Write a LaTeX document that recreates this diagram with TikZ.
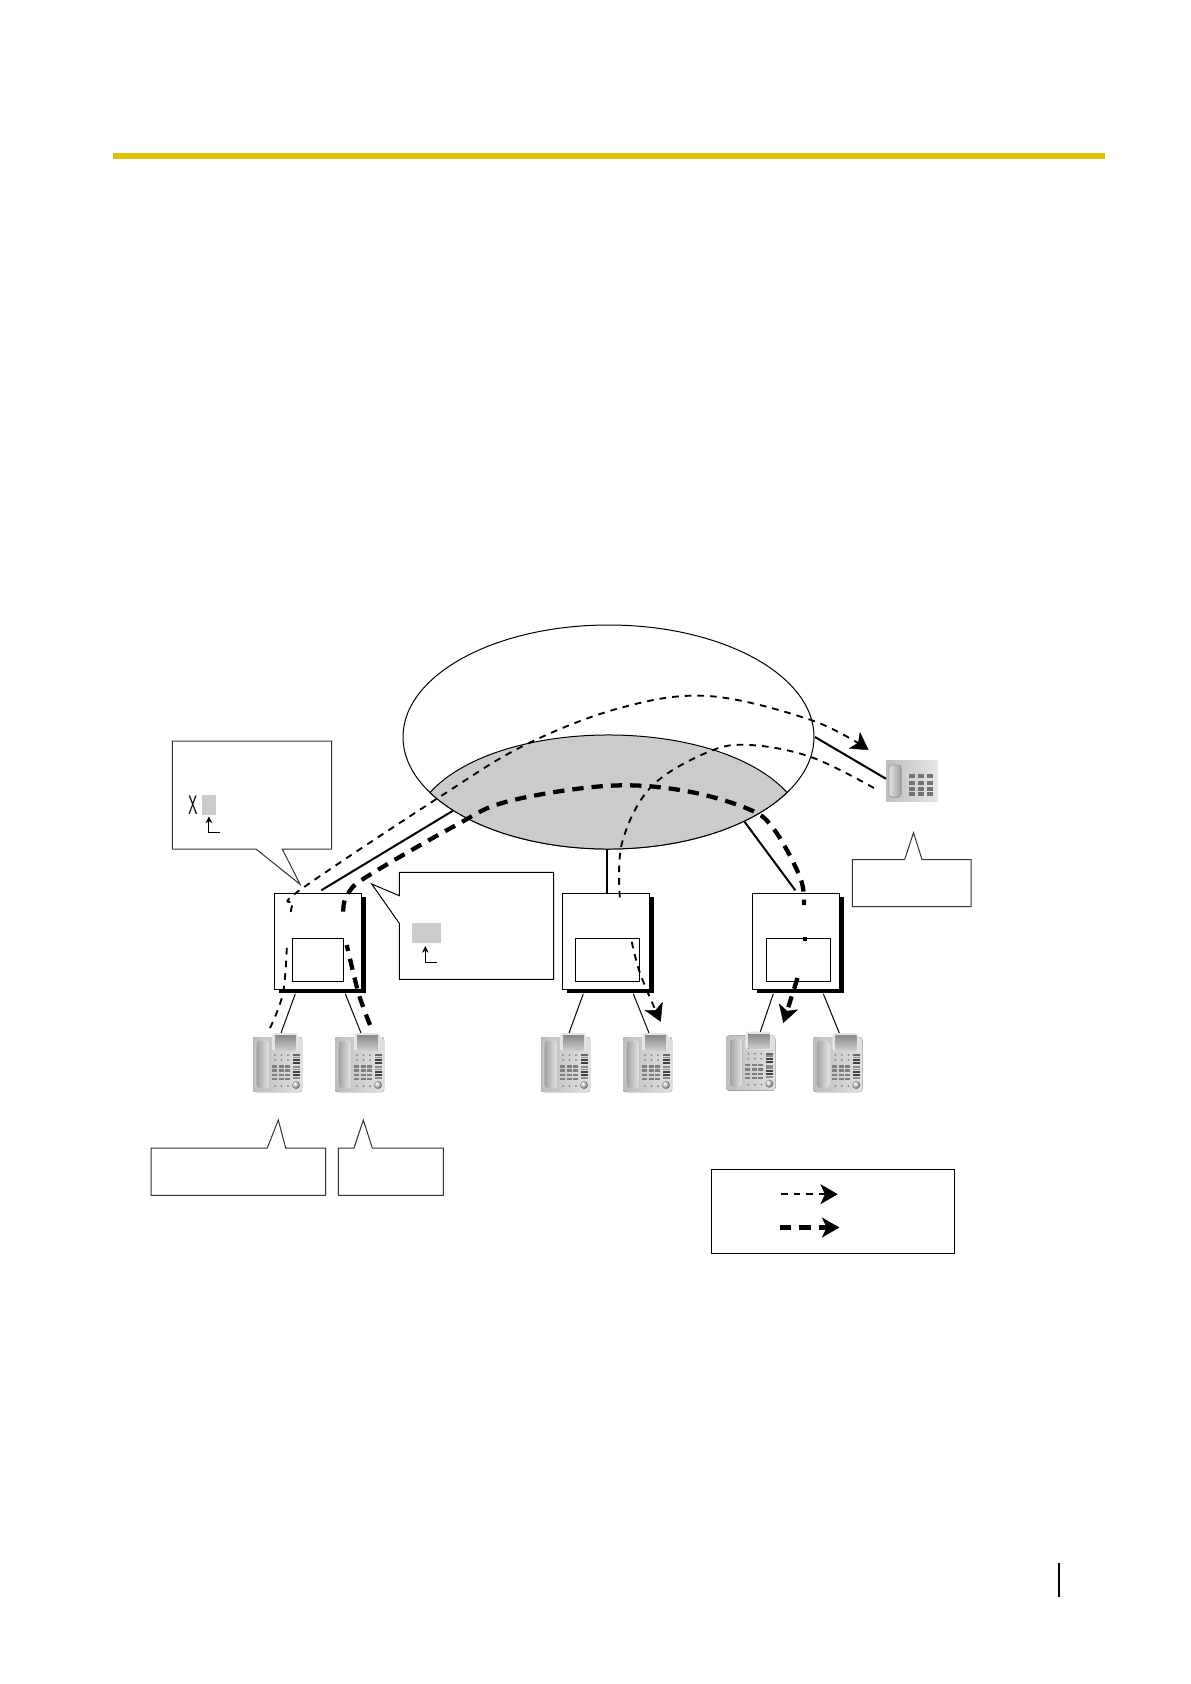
\documentclass[tikz,border=0pt]{standalone}
\usepackage{xcolor}
\usepackage{graphicx}
\usetikzlibrary{shapes.geometric, arrows.meta, positioning, shadows}

\definecolor{barcol}{HTML}{E0BF00}
\definecolor{lenscol}{HTML}{CBCBCB}
\newcommand{\px}{0.75pt}

% desk phone with keypad, #1 name, #2 x, #3 y (top left corner)
\newcommand{\deskphone}[3]{
  \node[phonebox] (#1) at (#2,#3) {};
  \begin{scope}[shift={(#1.north west)}]
    \fill[rounded corners=2pt, left color=black!26, right color=black!12] (0,4) rectangle (49,59);
    \fill[rounded corners=3pt, left color=black!38, right color=black!10, draw=black!14] (3,7) rectangle (16,56);
    \fill[rounded corners=2pt, black!10] (19,0) rectangle (45,18);
    \fill[top color=black!45, bottom color=black!20] (22,2.5) rectangle (43,17);
    \foreach \kx in {22,28.5,35}{
      \foreach \ky in {22,27,53}
        \fill[black!50] (\kx,\ky) circle (1);
    }
    \foreach \kx in {19,25.5,32}{
      \foreach \ky/\kh in {32/2.5,36/3,41/2,45/2}
        \fill[black!50] (\kx,\ky) rectangle ++(5,\kh);
    }
    \foreach \ky/\kc in {21/60,23.5/45,26/75,29/75,33/45,35.5/45,38/75,41/75,44/45}
      \fill[black!\kc] (40,\ky) rectangle ++(6.5,1.8);
    \shade[ball color=black!15] (43,52) circle (4);
  \end{scope}
}

\begin{document}
\begin{tikzpicture}[
  x=0.75pt, y=-0.75pt,
  pbxbox/.style={rectangle, draw, fill=white, line width=\px, inner sep=0pt, anchor=north west,
                 minimum width=87*\px, minimum height=96*\px,
                 drop shadow={opacity=1, fill=black, shadow xshift=2.8pt, shadow yshift=-2.6pt}},
  cardbox/.style={rectangle, draw, fill=white, line width=\px, inner sep=0pt, anchor=north west,
                  minimum width=#1*\px, minimum height=43*\px},
  slotbox/.style={rectangle, fill=lenscol, inner sep=0pt, anchor=north west,
                  minimum width=#1*\px, minimum height=20*\px},
  phonebox/.style={rectangle, inner sep=0pt, anchor=north west, minimum width=50*\px, minimum height=59*\px},
  callout/.style={draw=black!80, fill=white, line width=\px},
  link/.style={line width=\px},
  trunk/.style={line width=2*\px},
  tinyarr/.style={line width=\px, -{Stealth[length=5pt, width=5pt]}},
  thinpath/.style={line width=1.4pt, dash pattern=on 5pt off 4.5pt},
  thickpath/.style={line width=3.2pt, dash pattern=on 8.5pt off 6pt},
  bigtip/.style={-{Stealth[length=13pt, width=15pt, inset=3.5pt, line width=0.3pt]}}
]
\useasboundingbox (0,0) rectangle (1191,1684);

% page furniture
\fill[barcol] (113,152.5) rectangle (1105,159);
\draw[line width=1.2*\px] (1059,1563) -- (1059,1597);

% network
\node[ellipse, draw, fill=white, line width=\px, inner sep=0pt, minimum width=411*\px, minimum height=224*\px] (cloud) at (608.5,737) {};
\draw[fill=lenscol, line width=\px] (430,792.5) .. controls (500,715.8) and (717,715.8) .. (787,792.5)
  arc[start angle=29.7, end angle=150.3, x radius=205.5, y radius=112] -- cycle;

% PBX units
\node[pbxbox] (pbx1) at (274.3,893.3) {};
\node[pbxbox] (pbx2) at (562.3,893.3) {};
\node[pbxbox] (pbx3) at (752.3,893.3) {};
\node[cardbox=51] (card1) at (292.3,938.3) {};
\node[cardbox=63.4] (card2) at (575.3,938.3) {};
\node[cardbox=63.4] (card3) at (766.3,938.3) {};

% phones
\deskphone{ph1}{253}{1033}
\deskphone{ph2}{335}{1033}
\deskphone{ph3}{541}{1033}
\deskphone{ph4}{623}{1033}
\deskphone{ph5}{726.3}{1031.7}
\deskphone{ph6}{813.3}{1033}

% outside phone
\node[rectangle, inner sep=0pt, anchor=north west, minimum width=52*\px, minimum height=41*\px] (fax) at (886,760) {};
\begin{scope}[shift={(fax.north west)}]
  \fill[left color=black!25, right color=black!10] (0,0) rectangle (52,41);
  \fill[rounded corners=2pt, left color=black!12, right color=black!38, draw=black!40] (3,5) rectangle (15,37);
  \foreach \kx in {23,32,41}{
    \foreach \ky/\kh in {14/4,21/4,27/3.5,32/4}
      \fill[black!55] (\kx,\ky) rectangle ++(6,\kh);
  }
\end{scope}

% connectors
\foreach \a/\ax/\b/\bx in {pbx1/21/ph1/28,pbx1/71/ph2/26,pbx2/21/ph3/28,pbx2/71/ph4/26,pbx3/21/ph5/34,pbx3/71/ph6/26}
  \draw[link] ([shift={(\ax,3.5)}]\a.south west) -- ([xshift=\bx*\px]\b.north west);
\draw[trunk] ([shift={(47,-3)}]pbx1.north west) -- (453,810.7);
\draw[trunk] (606.7,893.3) -- (606.7,849);
\draw[trunk] ([shift={(43,-3)}]pbx3.north west) -- (744.5,821.7);
\draw[trunk] (815,737) -- ([yshift=2*\px]fax.west);

% callouts
\draw[callout] (172.3,741) -- (331.7,741) -- (331.7,849) -- (282.3,849) -- (300,884.3) -- (256,849) -- (172.3,849) -- cycle;
\draw[callout, draw=black] (399.3,872.3) -- (553.7,872.3) -- (553.7,979.3) -- (399.3,979.3) -- (399.3,923.3) -- (371.7,884) -- (399.3,895.7) -- cycle;
\draw[callout] (852.4,859.5) -- (904.7,859.5) -- (913.5,832.7) -- (922,859.5) -- (971,859.5) -- (971,906.5) -- (852.4,906.5) -- cycle;
\draw[callout] (151.2,1148) -- (267.3,1148) -- (278.3,1120) -- (285.7,1148) -- (325.7,1148) -- (325.7,1195.3) -- (151.2,1195.3) -- cycle;
\draw[callout] (338.3,1148) -- (354,1148) -- (363.3,1120) -- (372.3,1148) -- (443.3,1148) -- (443.3,1195.3) -- (338.3,1195.3) -- cycle;

% digit marks in the callouts
\node[inner sep=0pt] (xmark) at (193,805.5) {\scalebox{0.55}[1]{\fontsize{20}{20}\sffamily X}};
\node[slotbox=13.3] (slot1) at (202,795) {};
\node[slotbox=29.3] (slot2) at (411.7,923) {};
\draw[tinyarr] ([shift={(11.5,17)}]slot1.south) -| ([yshift=-1*\px]slot1.south);
\draw[tinyarr] ([shift={(10.5,18.5)}]slot2.south) -| ([shift={(-1.3,2.5)}]slot2.south);

% call paths
\coordinate (thinA) at (270,1028);
\coordinate (thinB) at (868.6,750);
\coordinate (thinC) at (874,788);
\coordinate (thinD) at (660.7,1021.7);
\coordinate (thickA) at (370,1025);
\coordinate (thickB) at (783.3,1023);
\draw[thinpath] plot[smooth, tension=0.6] coordinates {(thinA) (283,993) (287,943)};
\draw[thinpath, bigtip] plot[smooth, tension=0.6] coordinates {(290.7,912) (293,903) (300,890) (440,796.7) (525,745) (620,708) (708,696) (811,720) (thinB)};
\draw[thinpath] plot[smooth, tension=0.6] coordinates {(thinC) (811,757) (750,745) (708,752) (651,787) (622,843) (620,900)};
\draw[thinpath, bigtip] plot[smooth, tension=0.6] coordinates {(631.7,941.7) (638,967) (646.7,990) (thinD)};
\draw[thickpath] plot[smooth, tension=0.6] coordinates {(thickA) (361.7,1003) (356.7,986.7) (346.7,945)};
\draw[thickpath] plot[smooth, tension=0.6] coordinates {(343.3,911.7) (344,903) (348.3,893) (366.7,876.7) (453.3,826.7) (506.7,801.7) (605,786) (680,790) (746,808) (773,828) (800,877) (804,905)};
\draw[thickpath] (804.7,937) -- (804.7,941);
\draw[thickpath, bigtip] (797.5,978) -- (thickB);

% legend
\node[rectangle, draw, line width=\px, inner sep=0pt, anchor=north west, minimum width=243*\px, minimum height=84*\px] (legend) at (711.3,1169.3) {};
\draw[thinpath, bigtip] ([shift={(69.7,-17.6)}]legend.west) -- ([shift={(126.4,-17.6)}]legend.west);
\draw[thickpath, bigtip] ([shift={(68.7,15.7)}]legend.west) -- ([shift={(128,15.7)}]legend.west);
\end{tikzpicture}
\end{document}
